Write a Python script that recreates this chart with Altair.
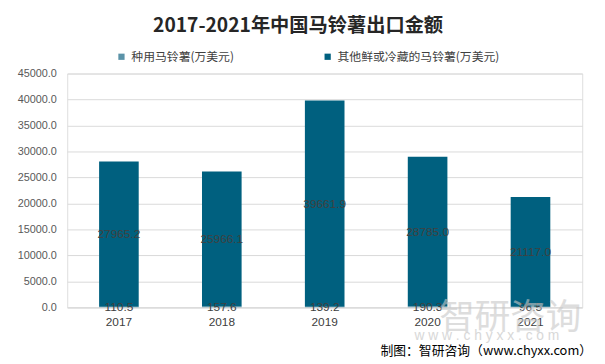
import altair as alt
import pandas as pd

years = ["2017", "2018", "2019", "2020", "2021"]
seed_potato = [110.5, 157.6, 139.2, 190.3, 96.5]
other_potato = [27965.2, 25966.1, 39661.9, 28785.0, 21117.0]
series_names = ["种用马铃薯(万美元)", "其他鲜或冷藏的马铃薯(万美元)"]
colors = ["#5B93A8", "#00607F"]
y_ticks = [0, 5000, 10000, 15000, 20000, 25000, 30000, 35000, 40000, 45000]

rows = []
for i, y in enumerate(years):
    rows.append({"year": y, "series": series_names[0], "value": seed_potato[i], "ord": 0})
    rows.append({"year": y, "series": series_names[1], "value": other_potato[i], "ord": 1})
df = pd.DataFrame(rows)

FONT_NUM = "Liberation Sans"
FONT_CJK = "Noto Sans CJK SC"

base = alt.Chart(df).transform_stack(
    stack="value", groupby=["year"], as_=["y0", "y1"], sort=[alt.SortField("ord")]
).transform_calculate(mid="(datum.y0 + datum.y1) / 2")

xaxis = alt.Axis(labelAngle=0, labelFont=FONT_NUM, labelFontSize=12, labelColor="#404040",
                 ticks=False, domain=True, domainColor="#d9d9d9", labelPadding=9)
yaxis = alt.Axis(values=y_ticks, format=".1f", labelFont=FONT_NUM, labelFontSize=11,
                 labelColor="#595959", ticks=False, domain=False, gridColor="#d9d9d9",
                 labelPadding=11, labelOverlap=False, labelFlush=False, tickCount=10)
xscale = alt.Scale(paddingInner=0.615, paddingOuter=0.31)
yscale = alt.Scale(domain=[0, 45000], nice=False)

bars = base.mark_bar().encode(
    x=alt.X("year:N", title=None, scale=xscale, axis=xaxis),
    y=alt.Y("y0:Q", title=None, scale=yscale, axis=yaxis),
    y2="y1:Q",
    color=alt.Color("series:N", scale=alt.Scale(domain=series_names, range=colors),
                    legend=alt.Legend(title=None, orient="none", legendX=49, legendY=-23,
                                      direction="horizontal", symbolType="square", symbolSize=40,
                                      symbolStrokeWidth=0, labelFont=FONT_CJK, labelFontSize=12,
                                      labelColor="#404040", columnPadding=88, labelOffset=4,
                                      labelLimit=300)),
    order=alt.Order("ord:Q"),
)

labels = base.mark_text(font=FONT_NUM, fontSize=12, color="#404040", baseline="middle").encode(
    x=alt.X("year:N", title=None, scale=xscale, axis=xaxis),
    y=alt.Y("mid:Q", title=None, scale=yscale, axis=yaxis),
    text=alt.Text("value:Q", format=".1f"),
)

wm1 = alt.Chart(pd.DataFrame({"t": ["智研咨询"]})).mark_text(
    font=FONT_CJK, fontSize=36, color="#c8c8c8", opacity=0.6, align="left", baseline="middle"
).encode(x=alt.value(377), y=alt.value(248), text="t:N")
wm2 = alt.Chart(pd.DataFrame({"t": ["w w w . c h y x x . c o m"]})).mark_text(
    font=FONT_NUM, fontSize=14, color="#c8c8c8", opacity=0.7, align="left", baseline="middle"
).encode(x=alt.value(352), y=alt.value(266), text="t:N")
src = alt.Chart(pd.DataFrame({"t": ["制图：智研咨询（www.chyxx.com）"]})).mark_text(
    font=FONT_CJK, fontSize=13, color="#000000", align="right", baseline="middle"
).encode(x=alt.value(532), y=alt.value(281), text="t:N")

chart = alt.layer(bars, labels, wm1, wm2, src).properties(
    width=522, height=237,
    padding={"left": 60, "top": 64, "right": 15, "bottom": 55},
    autosize=alt.AutoSizeParams(type="none"),
    title=alt.TitleParams("2017-2021年中国马铃薯出口金额", font=FONT_CJK, fontSize=19.5, fontWeight="bold",
                          color="#262626", anchor="middle", dx=-27, offset=15),
).configure_view(stroke=None).configure(background="white")

chart.save("out.html", embed_options={"renderer": "svg", "actions": False})
